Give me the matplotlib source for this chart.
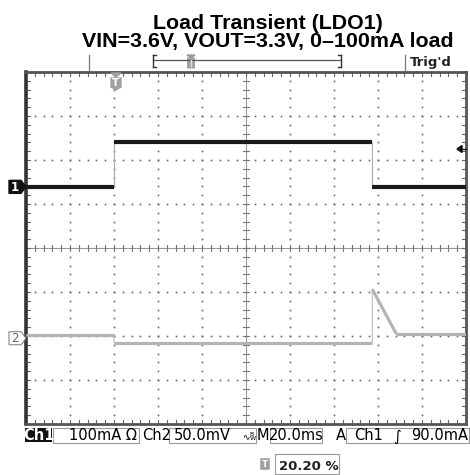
import matplotlib
matplotlib.use('Agg')
import matplotlib.pyplot as plt
import numpy as np
from matplotlib.patches import Polygon, Rectangle, FancyBboxPatch

# scope settings
ms_per_div = 20.0
ch1_ma_per_div = 100.0
ch2_mv_per_div = 50.0
t_left = -40.0           # ms at left edge of screen
ch1_offset = 1.39        # divisions above centre for Ch1 ground
ch2_offset = -2.05       # divisions for Ch2 reference

# Ch1: load current (mA)
ch1_t = [-40.0, 0.0, 0.0, 117.4, 117.4, 160.0]
ch1_i = [0.0, 0.0, 102.0, 102.0, 0.0, 0.0]

# Ch2: output voltage deviation (mV, AC coupled)
ch2_t = [-40.0, 0.0, 0.0, 117.4, 117.4, 128.3, 160.0]
ch2_v = [3.4, 3.4, -5.3, -5.3, 55.7, 5.1, 5.1]

title_lines = ['Load Transient (LDO1)', 'VIN=3.6V, VOUT=3.3V, 0\u2013100mA load']

W, H = 470, 475
fig = plt.figure(figsize=(W / 100, H / 100), dpi=100)
fig.patch.set_facecolor('white')

# screen area in pixels
x0, x1, y0, y1 = 26, 466, 72, 424
ax = fig.add_axes([x0 / W, 1 - y1 / H, (x1 - x0) / W, (y1 - y0) / H])
ax.set_xlim(0, 10)
ax.set_ylim(-4, 4)
ax.set_xticks([])
ax.set_yticks([])
for s in ax.spines.values():
    s.set_linewidth(2.0)
    s.set_color('#555555')
ax.spines['left'].set_linewidth(2.6)
ax.spines['left'].set_color('#333333')

# dotted graticule
minor = np.arange(0, 10.01, 0.2)
minor_y = np.arange(-4, 4.01, 0.2)
for gx in range(1, 10):
    if gx == 5:
        continue
    ax.plot(np.full_like(minor_y, gx), minor_y, ls='none', marker='s', ms=1.2,
            mec='none', mfc='#666666', zorder=1)
for gy in range(-3, 4):
    if gy == 0:
        continue
    ax.plot(minor, np.full_like(minor, gy), ls='none', marker='s', ms=1.2,
            mec='none', mfc='#666666', zorder=1)

# centre cross with ticks
ax.axhline(0, color='#9a9a9a', lw=0.8, zorder=1)
ax.axvline(5, color='#9a9a9a', lw=0.8, zorder=1)
tl = 0.07
for m in minor:
    ax.plot([m, m], [-tl, tl], color='#777777', lw=0.8, zorder=1)
for m in minor_y:
    ax.plot([5 - tl * 1.1, 5 + tl * 1.1], [m, m], color='#777777', lw=0.8, zorder=1)

# border ticks
bl = 0.08
for m in minor:
    ax.plot([m, m], [4, 4 - bl], color='#666666', lw=0.8, zorder=1)
    ax.plot([m, m], [-4, -4 + bl], color='#666666', lw=0.8, zorder=1)
for m in minor_y:
    ax.plot([0, bl * 1.1], [m, m], color='#666666', lw=0.8, zorder=1)
    ax.plot([10, 10 - bl * 1.1], [m, m], color='#666666', lw=0.8, zorder=1)


def to_div_x(t):
    return (np.asarray(t) - t_left) / ms_per_div


def draw_trace(t, v, scale, offset, color, thick, thin_color):
    xs = to_div_x(t)
    ys = np.asarray(v) / scale + offset
    ax.plot(xs, ys, color=thin_color, lw=0.8, zorder=3, clip_on=True)
    for k in range(len(xs) - 1):
        if xs[k + 1] - xs[k] > 1e-6:
            ax.plot(xs[k:k + 2], ys[k:k + 2], color=color, lw=thick,
                    solid_capstyle='butt', zorder=4)


draw_trace(ch1_t, ch1_i, ch1_ma_per_div, ch1_offset, '#1a1a1a', 3.0, '#aaaaaa')
draw_trace(ch2_t, ch2_v, ch2_mv_per_div, ch2_offset, '#b4b4b4', 2.3, '#bcbcbc')

# overlay in pixel coordinates for scope decorations
ov = fig.add_axes([0, 0, 1, 1], zorder=5)
ov.set_xlim(0, W)
ov.set_ylim(H, 0)
ov.axis('off')
ov.patch.set_alpha(0)

# title
ov.text(268, 29, title_lines[0], ha='center', va='baseline', fontsize=15.4,
        fontweight='bold', family='Liberation Sans')
ov.text(268, 47, title_lines[1], ha='center', va='baseline', fontsize=15.4,
        fontweight='bold', family='Liberation Sans')

# record bar
ov.plot([89, 89], [55, 70], color='#777777', lw=0.9)
ov.plot([153, 341], [60, 60], color='#555555', lw=0.9)
ov.plot([153, 153], [55, 67], color='#333333', lw=1.0)
ov.plot([153, 156], [55, 55], color='#333333', lw=1.0)
ov.plot([153, 156], [67, 67], color='#333333', lw=1.0)
ov.plot([341, 341], [55, 67], color='#333333', lw=1.0)
ov.plot([338, 341], [55, 55], color='#333333', lw=1.0)
ov.plot([338, 341], [67, 67], color='#333333', lw=1.0)
ov.add_patch(Polygon([[187, 55], [195, 55], [191, 58]], closed=True, color='#999999'))
ov.add_patch(FancyBboxPatch((187.5, 58), 7, 10, boxstyle='round,pad=0.5',
                            fc='#a0a0a0', ec='none'))
ov.plot([191, 191], [60, 66], color='#e0e0e0', lw=1.0)
ov.plot([405, 405], [55, 70], color='#777777', lw=0.9)
ov.text(410, 66, "Trig'd", ha='left', va='baseline', fontsize=9.5,
        fontweight='bold', color='#222222')

# trigger position marker on screen
ov.add_patch(Polygon([[111, 73], [121, 73], [116, 77]], closed=True, color='#a0a0a0'))
ov.add_patch(Polygon([[111, 78], [121, 78], [121, 87], [116, 90], [111, 87]],
                     closed=True, color='#a0a0a0'))
ov.text(116, 83.5, 'T', ha='center', va='center', fontsize=7.5, color='white',
        fontweight='bold')

# trigger level arrow
ov.add_patch(Polygon([[457, 149], [462, 145.5], [462, 152.5]], closed=True, color='#111111'))
ov.plot([462, 466], [149, 149], color='#111111', lw=1.0)

# channel ground markers
ch1_y = 248 - ch1_offset * 44
ch2_y = 248 - ch2_offset * 44
ov.add_patch(Polygon([[9, ch1_y - 6.5], [21, ch1_y - 6.5], [26, ch1_y],
                      [21, ch1_y + 6.5], [9, ch1_y + 6.5]], closed=True,
                     fc='#111111', ec='#111111'))
ov.text(15, ch1_y + 0.5, '1', ha='center', va='center', fontsize=8.5,
        color='white', fontweight='bold')
ov.add_patch(Polygon([[9, ch2_y - 6.5], [21, ch2_y - 6.5], [26, ch2_y],
                      [21, ch2_y + 6.5], [9, ch2_y + 6.5]], closed=True,
                     fc='white', ec='#888888', lw=0.8))
ov.text(15, ch2_y + 0.5, '2', ha='center', va='center', fontsize=8.5,
        color='#666666')

# status readout
fs = 10.5
base = 440.5
ov.add_patch(Rectangle((25, 428), 27, 14, fc='#111111', ec='none'))
ov.text(38.5, base, 'Ch1', ha='center', va='baseline', fontsize=fs, color='white',
        fontweight='bold')
ov.add_patch(Rectangle((53, 428), 86, 15, fc='white', ec='#999999', lw=0.8))
ov.text(137, base, '100mA \u03a9', ha='right', va='baseline', fontsize=fs)
ov.text(142, base, 'Ch2', ha='left', va='baseline', fontsize=fs)
ov.add_patch(Rectangle((169, 428), 87, 15, fc='white', ec='#999999', lw=0.8))
ov.text(174, base, '50.0mV', ha='left', va='baseline', fontsize=fs)
ov.text(242, base - 1, '\u223f', ha='left', va='baseline', fontsize=6.5)
ov.text(249, base - 4, 'B', ha='left', va='baseline', fontsize=4.5)
ov.text(249.5, base, 'W', ha='left', va='baseline', fontsize=4.5)
ov.text(257, base, 'M', ha='left', va='baseline', fontsize=fs)
ov.add_patch(Rectangle((270, 428), 52, 15, fc='white', ec='#999999', lw=0.8))
ov.text(296, base, '20.0ms', ha='center', va='baseline', fontsize=fs)
ov.text(341, base, 'A', ha='center', va='baseline', fontsize=fs)
ov.add_patch(Rectangle((346, 428), 123, 15, fc='white', ec='#999999', lw=0.8))
ov.text(354, base, 'Ch1', ha='left', va='baseline', fontsize=fs)
ov.text(397, base, '\u222b', ha='center', va='baseline', fontsize=fs)
ov.text(468, base, '90.0mA', ha='right', va='baseline', fontsize=fs)

# trigger position readout
ov.add_patch(FancyBboxPatch((261, 459), 8, 10, boxstyle='round,pad=0.8',
                            fc='#a0a0a0', ec='none'))
ov.text(265, 464.5, 'T', ha='center', va='center', fontsize=6.5, color='white',
        fontweight='bold')
ov.add_patch(Rectangle((275, 454), 64, 20, fc='white', ec='#999999', lw=0.8))
ov.text(279, 470, '20.20 %', ha='left', va='baseline', fontsize=9.5,
        fontweight='bold', color='#222222')

fig.savefig('out.png', dpi=100)
